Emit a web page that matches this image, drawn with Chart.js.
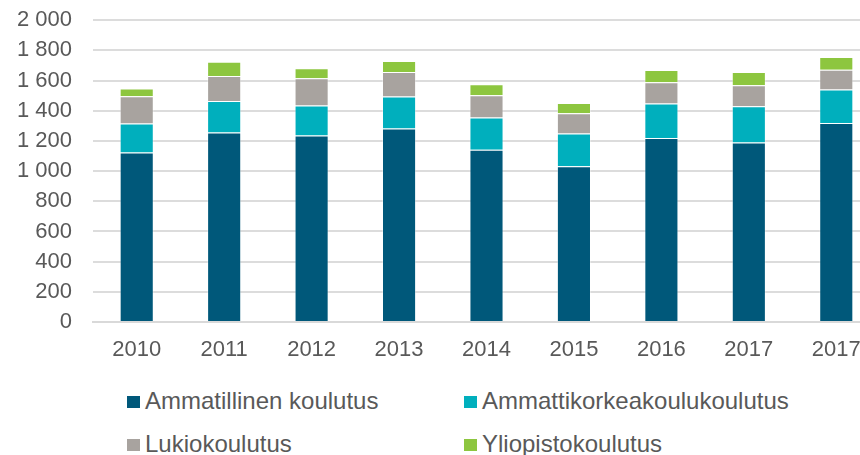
<!DOCTYPE html>
<html lang="fi">
<head>
    <meta charset="UTF-8">
    <title>Koulutus 2010-2017</title>
    <style>
        html, body { margin: 0; padding: 0; background: #fff; overflow: hidden; width: 860px; height: 455px; }
        .chart-box { position: absolute; left: 0; top: -14px; width: 880px; height: 386px; }
        .legend-item { position: absolute; height: 24px; }
        .legend-item .box { position: absolute; left: 0; top: 7px; width: 13px; height: 12px; }
        .legend-item .txt { position: absolute; left: 18px; top: 0; font: 24px "Liberation Sans", Arial, sans-serif; line-height: 24px;
            color: #595959; white-space: nowrap; }
    </style>
</head>
<body>
    <div class="chart-box">
        <canvas id="eduChart" width="880" height="386"></canvas>
    </div>
    <div id="legend"></div>

    <script src="https://cdn.jsdelivr.net/npm/chart.js"></script>
    <script>
        // Vuodet ja sarjat (luettu kuvasta)
        const years = ['2010', '2011', '2012', '2013', '2014', '2015', '2016', '2017', '2017'];
        const ammatillinen = [1124, 1256, 1236, 1283, 1142, 1032, 1219, 1190, 1318];
        const amk = [192, 209, 198, 211, 213, 218, 229, 240, 222];
        const lukio = [180, 165, 181, 163, 148, 134, 141, 139, 132];
        const yliopisto = [51, 95, 66, 72, 72, 68, 81, 88, 84];
        const yTicks = [0, 200, 400, 600, 800, 1000, 1200, 1400, 1600, 1800, 2000];

        const seriesNames = ['Ammatillinen koulutus', 'Ammattikorkeakoulukoulutus', 'Lukiokoulutus', 'Yliopistokoulutus'];
        const seriesColors = ['#00587A', '#00AFBD', '#A8A39F', '#8DC63F'];
        const seriesData = [ammatillinen, amk, lukio, yliopisto];

        const textColor = '#595959';
        const fontFamily = '"Liberation Sans", Arial, sans-serif';

        const ctx = document.getElementById('eduChart').getContext('2d');
        const eduChart = new Chart(ctx, {
            type: 'bar',
            data: {
                labels: years,
                datasets: seriesData.map(function (d, i) {
                    return {
                        label: seriesNames[i],
                        data: d,
                        backgroundColor: seriesColors[i],
                        borderColor: 'rgba(255,255,255,0.35)',
                        borderWidth: 1,
                        barPercentage: 0.39,
                        categoryPercentage: 1
                    };
                })
            },
            options: {
                responsive: false,
                animation: false,
                layout: { padding: { top: 6, left: 0, right: 0, bottom: 0 } },
                plugins: { legend: { display: false }, tooltip: { enabled: false } },
                scales: {
                    x: {
                        stacked: true,
                        grid: { display: false, drawTicks: false },
                        border: { color: '#d9d9d9', width: 2 },
                        ticks: { color: textColor, font: { family: fontFamily, size: 22 }, padding: 15, maxRotation: 0 },
                        afterFit: function (scale) { scale.height = 50; }
                    },
                    y: {
                        stacked: true,
                        min: 0,
                        max: 2000,
                        afterBuildTicks: function (scale) {
                            scale.ticks = yTicks.map(function (v) { return { value: v }; });
                        },
                        grid: { color: '#dcdcdc', lineWidth: 2, drawTicks: false },
                        border: { display: false },
                        ticks: {
                            autoSkip: false,
                            color: textColor,
                            font: { family: fontFamily, size: 22 },
                            padding: 21,
                            callback: function (v) {
                                return String(v).replace(/\B(?=(\d{3})+(?!\d))/g, ' ');
                            }
                        },
                        afterFit: function (scale) { scale.width = 93; }
                    }
                }
            }
        });

        // Legenda kahteen sarakkeeseen
        const legendPos = [[127, 389], [464, 389], [127, 432], [464, 432]];
        const legend = document.getElementById('legend');
        seriesNames.forEach(function (name, i) {
            const item = document.createElement('div');
            item.className = 'legend-item';
            item.style.left = legendPos[i][0] + 'px';
            item.style.top = legendPos[i][1] + 'px';
            item.innerHTML = '<span class="box" style="background:' + seriesColors[i] + '"></span><span class="txt">' + name + '</span>';
            legend.appendChild(item);
        });
    </script>
</body>
</html>
